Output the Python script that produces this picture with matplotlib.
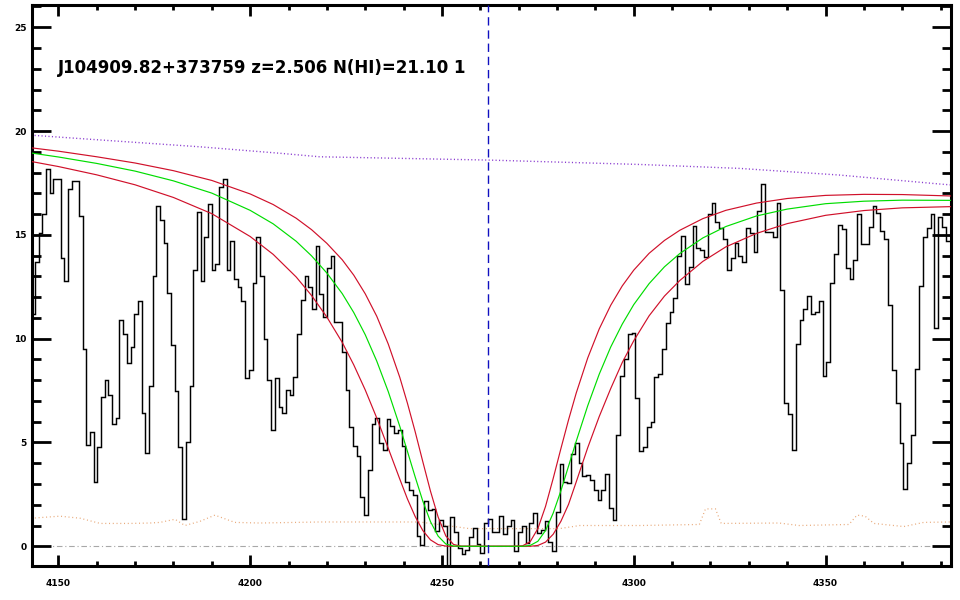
import numpy as np
import matplotlib
matplotlib.use('Agg')
import matplotlib.pyplot as plt
from matplotlib.ticker import MultipleLocator, NullFormatter

# ---------------- data ----------------
# observed flux per spectral pixel (SDSS log-lambda grid, dloglam = 1e-4)
flux = [
    11.2, 13.7, 15.1, 16.0, 18.15, 17.0, 17.7, 17.7, 13.9, 12.8,
    17.2, 17.6, 17.6, 15.9, 9.5, 4.9, 5.5, 3.1, 4.8, 7.2,
    8.0, 7.3, 5.9, 6.2, 10.9, 10.2, 8.85, 9.6, 11.2, 11.8,
    6.4, 4.5, 7.7, 13.0, 16.4, 15.7, 14.6, 12.2, 9.7, 7.5,
    4.8, 1.3, 5.0, 7.7, 13.3, 16.1, 12.8, 14.9, 16.5, 13.3,
    13.6, 17.3, 17.7, 13.3, 14.7, 12.85, 12.5, 11.8, 8.1, 8.5,
    12.7, 14.9, 13.0,
    9.96, 8.0, 5.6, 8.1, 6.7, 6.4, 7.55, 7.3, 8.13, 10.2,
    11.86, 13.0, 12.47, 11.45, 14.46, 12.14, 11.05, 13.38, 13.98, 10.78,
    10.78, 9.37, 7.55, 5.75, 4.82, 4.34, 2.38, 1.49, 3.66, 5.91,
    6.2, 4.98, 4.66, 6.15, 5.78, 5.46, 5.62, 4.82, 3.1, 2.7,
    2.46, 0.48, 0.05, 2.18, 1.73, 1.8, 0.74, 1.25, 1.0, -1.5,
    1.4, 0.7, -0.1, -0.35, -0.2, 0.45, 0.9, 0.1, -0.3, 1.1,
    1.33, 0.7, 0.7, 1.47, 0.6, 0.98, 1.25, -0.25, 0.68, 1.0,
    0.16, 1.1, 1.62, 0.62, 0.8, 1.2, 0.2, -0.25, 1.65, 3.95,
    3.1, 3.05, 4.43, 4.98, 4.02, 3.37, 3.42, 3.2, 2.73, 2.25,
    2.7, 3.5, 1.82, 1.25, 5.35, 8.19, 9.0, 10.22, 10.25, 7.12,
    4.58, 4.79, 5.75, 6.0, 8.16, 8.32, 9.48, 10.76, 11.29, 11.94,
    13.98, 14.94, 12.63, 13.43, 15.44, 14.39, 14.27, 13.94, 16.0, 16.51,
    15.63, 15.31,
    14.78, 13.33, 13.9, 14.59, 13.98, 13.67, 15.34, 15.07, 14.15, 16.16,
    17.43, 15.15, 15.15, 14.88, 16.55, 12.34, 6.88, 6.36, 4.63, 9.73,
    10.92, 11.45, 12.06, 11.18, 11.29, 11.82, 8.19, 8.88, 12.66, 14.1,
    15.47, 15.26, 13.38, 12.87, 13.78, 15.98, 14.54, 14.54, 15.39, 16.4,
    16.03, 15.2, 14.78, 11.61, 8.51, 6.88, 4.98, 2.78, 4.02, 5.38,
    8.56, 12.55, 14.88, 15.34, 15.98, 10.49, 15.87, 15.39, 14.7,
]
wave_start = 4142.98
dloglam = 1e-4

# Voigt model curves (best N(HI), and the two error curves)
model_wave = [4143, 4150, 4160, 4170, 4180, 4190, 4200, 4206, 4212, 4216,
              4220, 4224, 4227, 4230, 4233, 4236, 4239, 4241, 4243, 4245,
              4247, 4249, 4251, 4253, 4255, 4262, 4269, 4271, 4273, 4275,
              4277, 4279, 4281, 4283, 4285, 4288, 4291, 4294, 4297, 4300,
              4304, 4308, 4312, 4318, 4324, 4332, 4340, 4350, 4360, 4370, 4383]
model_best = [18.94, 18.75, 18.44, 18.07, 17.6, 17.01, 16.18, 15.53, 14.69, 13.99,
              13.16, 12.17, 11.26, 10.19, 8.92, 7.45, 5.78, 4.57, 3.35, 2.18,
              1.19, 0.49, 0.11, 0.01, 0.0, 0.0, 0.0, 0.0, 0.04, 0.24,
              0.76, 1.6, 2.67, 3.86, 5.06, 6.77, 8.29, 9.6, 10.7, 11.64,
              12.65, 13.46, 14.1, 14.85, 15.4, 15.91, 16.24, 16.5, 16.62, 16.67, 16.66]
model_low = [19.19, 19.03, 18.76, 18.46, 18.09, 17.62, 16.97, 16.46, 15.8, 15.25,
             14.59, 13.8, 13.06, 12.16, 11.08, 9.74, 8.14, 6.89, 5.53, 4.08,
             2.66, 1.41, 0.5, 0.09, 0.0, 0.0, 0.0, 0.02, 0.22, 0.85,
             1.92, 3.27, 4.7, 6.09, 7.38, 9.07, 10.47, 11.61, 12.54, 13.3,
             14.11, 14.73, 15.22, 15.78, 16.18, 16.53, 16.75, 16.9, 16.95, 16.94, 16.87]
model_high = [18.53, 18.29, 17.89, 17.41, 16.8, 16.02, 14.92, 14.06, 12.97, 12.08,
              11.04, 9.82, 8.74, 7.53, 6.18, 4.72, 3.24, 2.28, 1.44, 0.76,
              0.31, 0.08, 0.01, 0.0, 0.0, 0.0, 0.0, 0.0, 0.0, 0.04,
              0.2, 0.58, 1.2, 2.02, 3.1, 4.75, 6.25, 7.6, 8.85, 9.9,
              11.1, 12.05, 12.8, 13.72, 14.42, 15.07, 15.54, 15.94, 16.17, 16.3, 16.36]

# continuum (dotted purple)
cont_wave = [4142.9, 4160.9, 4186.9, 4207.7, 4218.1, 4262.4, 4301.5, 4327.6, 4353.6, 4379.6, 4383.0]
cont_flux = [19.8, 19.57, 19.24, 18.93, 18.76, 18.6, 18.39, 18.2, 17.88, 17.45, 17.4]

# error array (dotted orange)
err_wave = [4142.9, 4150.4, 4155.7, 4160.9, 4168.7, 4173.9, 4176.5, 4180.4, 4183.0, 4186.9,
            4190.8, 4196.0, 4202.5, 4218.1, 4244.2, 4257.2, 4280.6, 4285.9, 4301.5, 4317.1,
            4318.7, 4321.3, 4322.8, 4337.9, 4343.1, 4356.1, 4358.2, 4360.3, 4362.6, 4370.4,
            4375.6, 4382.4]
err_flux = [1.35, 1.45, 1.35, 1.1, 1.1, 1.12, 1.15, 1.3, 1.0, 1.2,
            1.5, 1.15, 1.12, 1.17, 1.17, 0.85, 0.85, 1.0, 1.0, 1.05,
            1.8, 1.8, 1.1, 1.12, 1.0, 1.05, 1.5, 1.45, 1.1, 0.95,
            1.15, 1.17]

lya_center = 4262.1
title = "J104909.82+373759 z=2.506 N(HI)=21.10 1"

x_ticks = [4150, 4200, 4250, 4300, 4350]
y_ticks = [0, 5, 10, 15, 20, 25]

# ---------------- plot ----------------
plt.rcParams['font.family'] = ['DejaVu Sans']

fig = plt.figure(figsize=(9.6, 6.0), dpi=100)
ax = fig.add_axes([31.5 / 960, 34 / 600, (951 - 31.5) / 960, (566 - 5) / 600])

edges = wave_start * 10 ** (dloglam * np.arange(len(flux) + 1))

ax.axhline(0, color='#a8a8a8', lw=0.8, dashes=[5, 2.5, 1, 2.5], zorder=1)
ax.plot(err_wave, err_flux, color='#e8a878', lw=0.9, ls=(0, (0.8, 2.2)), zorder=1)
ax.plot(cont_wave, cont_flux, color='#8a3cd0', lw=1.0, ls=(0, (0.8, 1.7)), zorder=2)
ax.stairs(flux, edges, baseline=None, color='black', lw=1.05, zorder=3)
ax.plot(model_wave, model_low, color='#d0102a', lw=0.85, zorder=4)
ax.plot(model_wave, model_high, color='#d0102a', lw=0.85, zorder=4)
ax.plot(model_wave, model_best, color='#00dd00', lw=0.85, zorder=5)
ax.axvline(lya_center, color='#1010c0', lw=1.0, dashes=[6, 3.5], zorder=6)

ax.text(4150, 23.05, title, fontsize=12, fontweight='bold', va='center', ha='left')

ax.set_xlim(4143.0, 4382.7)
ax.set_ylim(-0.95, 26.07)
ax.set_xticks(x_ticks)
ax.set_yticks(y_ticks)
ax.xaxis.set_minor_locator(MultipleLocator(10))
ax.yaxis.set_minor_locator(MultipleLocator(1))
ax.xaxis.set_minor_formatter(NullFormatter())
ax.yaxis.set_minor_formatter(NullFormatter())

for s in ax.spines.values():
    s.set_linewidth(2.2)
ax.tick_params(which='both', direction='in', top=True, right=True, width=2.0)
ax.tick_params(axis='x', which='major', length=8, pad=9.5)
ax.tick_params(axis='x', which='minor', length=3.7)
ax.tick_params(axis='y', which='major', length=13.5, pad=3.5)
ax.tick_params(axis='y', which='minor', length=6.5)
for lab in ax.get_xticklabels() + ax.get_yticklabels():
    lab.set_fontsize(6.5)
    lab.set_fontweight('bold')

fig.savefig('out.png', dpi=100)
